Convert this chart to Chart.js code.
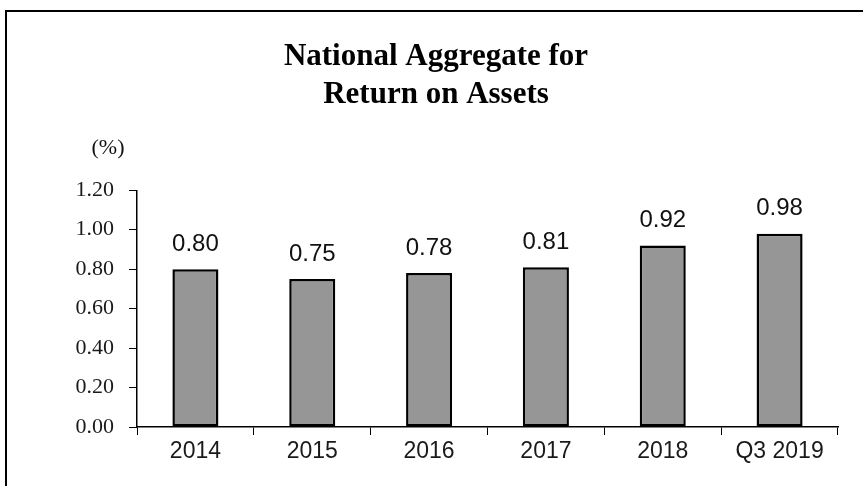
<!DOCTYPE html>
<html>
<head>
<meta charset="utf-8">
<title>National Aggregate for Return on Assets</title>
<script src="https://cdn.jsdelivr.net/npm/chart.js@4"></script>
<style>
    body { margin: 0; background: #fff; overflow: hidden; }
    #wrap { position: relative; width: 863px; height: 486px; }
    #frame {
        position: absolute; left: 5px; top: 10px; width: 900px; height: 600px;
        border-left: 2.5px solid #000; border-top: 2.5px solid #000;
    }
    #chart { position: absolute; left: 0; top: 0; }
</style>
</head>
<body>
<div id="wrap">
    <div id="frame"></div>
    <canvas id="chart" width="863" height="486"></canvas>
</div>
<script>
// Chart data
const categories = ['2014', '2015', '2016', '2017', '2018', 'Q3 2019'];
const roaValues = [0.80, 0.75, 0.78, 0.81, 0.92, 0.98];
const yTicks = [0, 0.2, 0.4, 0.6, 0.8, 1.0, 1.2];

// value labels above the bars and the "(%)" unit label
const labelPlugin = {
    id: 'labels',
    afterDatasetsDraw(chart) {
        const ctx = chart.ctx;
        const meta = chart.getDatasetMeta(0);
        ctx.save();
        ctx.fillStyle = '#111';
        ctx.font = '24px "Liberation Sans", Arial, sans-serif';
        ctx.textAlign = 'center';
        ctx.textBaseline = 'middle';
        meta.data.forEach(function(bar, i) {
            ctx.fillText(roaValues[i].toFixed(2), bar.x, bar.y - 25);
        });
        ctx.font = '22px "Liberation Serif", "Times New Roman", serif';
        ctx.fillText('(%)', 108, 148);
        ctx.restore();
    }
};

const ctx = document.getElementById('chart').getContext('2d');
const roaChart = new Chart(ctx, {
    type: 'bar',
    data: {
        labels: categories,
        datasets: [{
            data: roaValues,
            backgroundColor: '#969696',
            borderColor: '#000',
            borderWidth: 2.5,
            borderSkipped: false,
            barPercentage: 0.394,
            categoryPercentage: 1.0
        }]
    },
    options: {
        responsive: false,
        animation: false,
        layout: { padding: { left: 34, right: 25, top: 0, bottom: 0 } },
        plugins: {
            legend: { display: false },
            tooltip: { enabled: false },
            title: {
                display: true,
                text: ['National Aggregate for', 'Return on Assets'],
                color: '#000',
                font: { family: '"Liberation Serif", "Times New Roman", serif', size: 31, weight: 'bold', lineHeight: 1.23 },
                padding: { top: 38, bottom: 76 }
            }
        },
        scales: {
            x: {
                grid: {
                    offset: true,
                    drawOnChartArea: false,
                    color: '#000',
                    tickLength: 8,
                    tickColor: '#000'
                },
                border: { color: '#000', width: 1.5 },
                ticks: {
                    color: '#1a1a1a',
                    padding: 3,
                    font: { family: '"Liberation Sans Narrow", "Arial Narrow", "Liberation Sans", sans-serif', size: 23 }
                },
                afterFit: function(scale) { scale.height = 59; }
            },
            y: {
                min: 0,
                max: 1.2,
                afterBuildTicks: function(scale) {
                    scale.ticks = yTicks.map(function(v) { return { value: v }; });
                },
                grid: {
                    drawOnChartArea: false,
                    color: '#000',
                    tickLength: 8,
                    tickColor: '#000'
                },
                border: { color: '#000', width: 1.5 },
                ticks: {
                    color: '#1a1a1a',
                    padding: 15,
                    font: { family: '"Liberation Serif", "Times New Roman", serif', size: 22 },
                    callback: function(v) { return Number(v).toFixed(2); }
                },
                afterFit: function(scale) { scale.width = 103; }
            }
        }
    },
    plugins: [labelPlugin]
});
</script>
</body>
</html>
